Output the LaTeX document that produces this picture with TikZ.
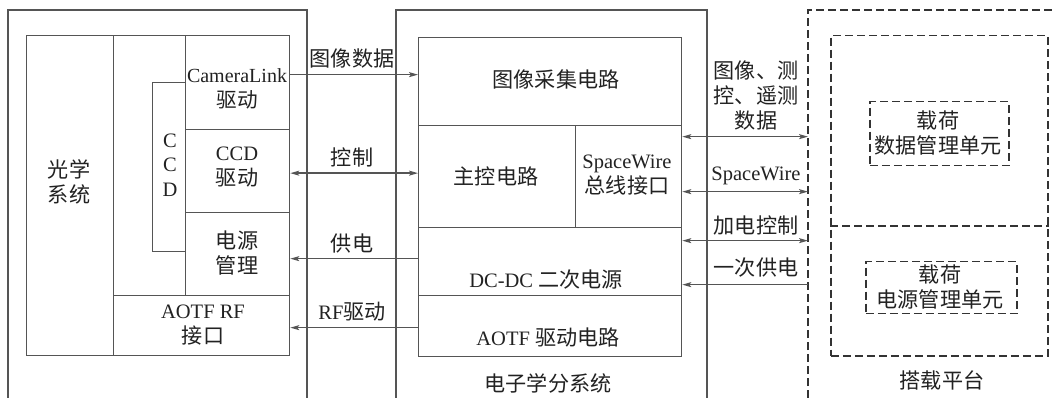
\documentclass[tikz,border=0pt]{standalone}
\usepackage{fontspec}
\setmainfont{Liberation Serif}
\newfontfamily\cjk[Scale=1.03]{Noto Sans CJK SC}
\usetikzlibrary{arrows.meta}
\definecolor{linec}{HTML}{555555}
\definecolor{dashc}{HTML}{333333}
\definecolor{txtc}{HTML}{222222}
\begin{document}
\begin{tikzpicture}[x=1pt,y=-1pt,
  every node/.style={text=txtc, font=\fontsize{20.5pt}{25pt}\selectfont},
  box/.style={draw=linec, line width=1.3pt, inner sep=0pt, anchor=north west},
  dashline/.style={draw=dashc, line width=1.5pt, dash pattern=on 8pt off 4pt},
  dbox/.style={box, dashline},
  lbl/.style={align=center, inner sep=0pt},
  arr/.style={draw=linec, line width=1.3pt},
  tip/.style={-{Stealth[length=9pt,width=5pt,inset=2pt]}},
  dtip/.style={{Stealth[length=9pt,width=5pt,inset=2pt]}-{Stealth[length=9pt,width=5pt,inset=2pt]}}
]
\useasboundingbox[fill=white] (0,0) rectangle (1053,398);
% outer frames (open at the bottom)
\draw[arr] (8,398) -- (8,10) -- (307,10) -- (307,398);
\draw[arr] (396,398) -- (396,10) -- (707,10) -- (707,398);
\draw[dashline] (808,398) -- (808,10) -- (1053,10);
\coordinate (rout) at (808,10);
% left subsystem
\node[box, minimum width=263pt, minimum height=320pt] (lin) at (26,35) {};
\node[box, minimum width=87pt, minimum height=320pt] (opt) at (26,35) {};
\node[box, minimum width=72pt, minimum height=260pt] (col) at (113,35) {};
\node[box, minimum width=104pt, minimum height=94pt] (cam) at (185,35) {};
\node[box, minimum width=104pt, minimum height=83pt] (ccdd) at (185,129) {};
\node[box, minimum width=104pt, minimum height=83pt] (pwrm) at (185,212) {};
\node[box, minimum width=176pt, minimum height=60pt] (arf) at (113,295) {};
\node[box, minimum width=33pt, minimum height=169pt] (ccd) at (152,82) {};
\node[lbl] (toptx) at (69,182) {\cjk 光学\\\cjk 系统};
\node[lbl, font=\fontsize{20pt}{25pt}\selectfont] (camtx) at (237,89) {CameraLink\\\cjk 驱动};
\node[lbl] (ccddtx) at (237,167) {CCD\\\cjk 驱动};
\node[lbl] (pwrtx) at (237,253) {\cjk 电源\\\cjk 管理};
\node[lbl] (arftx) at (203,325) {AOTF RF\\\cjk 接口};
\node[lbl, font=\fontsize{20.5pt}{24.5pt}\selectfont] (ccdtx) at (170,165) {C\\C\\D};
% middle subsystem
\node[box, minimum width=263pt, minimum height=88pt] (img) at (418,37) {};
\node[box, minimum width=157pt, minimum height=102pt] (mc) at (418,125) {};
\node[box, minimum width=106pt, minimum height=102pt] (sw) at (575,125) {};
\node[box, minimum width=263pt, minimum height=68pt] (dc) at (418,227) {};
\node[box, minimum width=263pt, minimum height=61pt] (aod) at (418,295) {};
\node[lbl] (imgtx) at (556,79) {\cjk 图像采集电路};
\node[lbl] (mctx) at (496,176) {\cjk 主控电路};
\node[lbl] (swtx) at (627,175) {SpaceWire\\\cjk 总线接口};
\node[lbl] (dctx) at (546,280) {DC-DC {\cjk 二次电源}};
\node[lbl] (aodtx) at (548,337) {AOTF {\cjk 驱动电路}};
\node[lbl] (msys) at (548,383) {\cjk 电子学分系统};
% right platform
\node[dbox, minimum width=217pt, minimum height=320pt] (pf) at (830,35) {};
\draw[dashline] (pf.west |- 0,226) -- (pf.east |- 0,226);
\node[dbox, minimum width=139pt, minimum height=64pt] (dmu) at (869,101) {};
\node[dbox, minimum width=151pt, minimum height=52pt] (pmu) at (865,261) {};
\node[lbl] (dmutx) at (938,133) {\cjk 载荷\\\cjk 数据管理单元};
\node[lbl] (pmutx) at (940,287) {\cjk 载荷\\\cjk 电源管理单元};
\node[lbl] (plat) at (942,380) {\cjk 搭载平台};
% connectors left
\draw[arr, tip] ([yshift=8pt]cam.east) -- ([yshift=8pt]cam.east -| img.west);
\node[lbl] (l1) at (352,58) {\cjk 图像数据};
\draw[arr, dtip] ([yshift=-2pt]ccdd.east) -- ([yshift=-2pt]ccdd.east -| mc.west);
\node[lbl] (l2) at (352,157) {\cjk 控制};
\draw[arr, tip] ([yshift=3pt]dc.west) -- ([yshift=3pt]dc.west -| pwrm.east);
\node[lbl] (l3) at (352,243) {\cjk 供电};
\draw[arr, tip] ([yshift=-1.5pt]aod.west) -- ([yshift=-1.5pt]aod.west -| arf.east);
\node[lbl] (l4) at (352,312) {RF{\cjk 驱动}};
% connectors right
\draw[arr, dtip] ([yshift=40pt]sw.east) -- ([yshift=40pt]sw.east -| rout);
\node[lbl] (r1) at (756,96) {\cjk 图像、测\\\cjk 控、遥测\\\cjk 数据};
\draw[arr, dtip] ([yshift=-15pt]sw.east) -- ([yshift=-15pt]sw.east -| rout);
\node[lbl] (r2) at (756,176) {SpaceWire};
\draw[arr, dtip] ([yshift=21pt]dc.east) -- ([yshift=21pt]dc.east -| rout);
\node[lbl] (r3) at (756,225) {\cjk 加电控制};
\draw[arr, tip] ([yshift=-23pt]dc.east -| rout) -- ([yshift=-23pt]dc.east);
\node[lbl] (r4) at (756,268) {\cjk 一次供电};
\end{tikzpicture}
\end{document}
